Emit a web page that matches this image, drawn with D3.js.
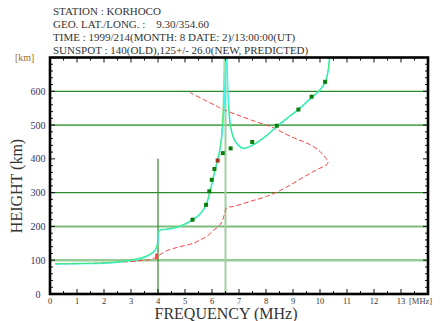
<!DOCTYPE html>
<html>
<head>
<meta charset="utf-8">
<script src="https://cdn.jsdelivr.net/npm/d3@7/dist/d3.min.js"></script>
<style>
  html, body { margin: 0; padding: 0; background: #fff; }
  svg { display: block; }
  text { font-family: "Liberation Serif", "DejaVu Serif", "Times New Roman", serif; white-space: pre; }
</style>
</head>
<body>
<svg id="chart" width="441" height="321"></svg>
<script>
// Header lines
const headerLines = [
  "STATION : KORHOCO",
  "GEO. LAT./LONG. :    9.30/354.60",
  "TIME : 1999/214(MONTH: 8 DATE: 2)/13:00:00(UT)",
  "SUNSPOT : 140(OLD),125+/- 26.0(NEW, PREDICTED)"
];

// Axis ticks
const freqTicks = [0,1,2,3,4,5,6,7,8,9,10,11,12,13];
const heightTicks = [0,100,200,300,400,500,600];

// Reference grid
const gridHeights = [100,200,300,500,600];
const markerFreqs = [4.0, 6.5];
const markerTops = [400, 700];

// Ordinary trace, model (cyan) – lower and upper branches [MHz, km]
const modelLow = [[0.2,89],[1,90],[2,91],[2.6,95],[3,100],[3.3,104],[3.6,112],[3.85,125],[3.96,140],[4.0,160],[4.02,184],[4.1,190],[4.3,191],[4.8,200],[5.28,219],[5.6,240],[5.8,268],[5.95,310],[6.05,345],[6.15,378],[6.25,410],[6.33,445],[6.4,500],[6.46,580],[6.5,650],[6.53,710]];
const modelHigh = [[6.55,710],[6.57,640],[6.6,580],[6.64,530],[6.7,490],[6.8,462],[6.95,442],[7.15,431],[7.5,440],[8.0,467],[8.4,496],[8.8,521],[9.2,546],[9.7,582],[10.0,604],[10.2,628],[10.3,660],[10.37,710]];

// Ordinary trace, fitted (green)
const fitLow = [[0.2,90],[1,90],[2,92],[2.6,96],[3,101],[3.4,108],[3.7,118],[3.9,131],[3.98,150],[4.0,175],[4.05,188],[4.3,192],[4.8,201],[5.28,220],[5.6,242],[5.8,270],[5.95,312],[6.05,347],[6.15,380],[6.25,412],[6.32,445],[6.38,500],[6.42,580],[6.45,710]];
const fitHigh = [[6.62,560],[6.66,510],[6.74,475],[6.85,452],[7.0,438],[7.15,431],[7.5,441],[8.0,468],[8.4,497],[8.8,522],[9.2,547],[9.7,583],[10.0,605],[10.2,629],[10.3,662],[10.36,710]];

// Plasma frequency profile (red, dashed)
const profile = [[0.2,89],[1,90],[2,92],[3,96],[3.5,100],[3.77,103],[4.0,113],[4.32,128],[4.81,140],[5.31,150],[5.56,160],[5.8,170],[6.05,188],[6.3,205],[6.42,225],[6.5,248],[6.56,256],[6.79,259],[7.41,274],[8.02,289],[8.64,311],[9.26,340],[9.88,368],[10.25,383],[10.3,392],[10.25,398],[10.0,422],[9.63,442],[8.89,467],[8.27,492],[7.59,511],[6.91,531],[6.36,548],[6.17,556],[5.68,576],[5.19,596]];

// Scaled observations
const obsFreq   = [5.28,5.78,5.90,5.99,6.09,6.21,6.40,6.69,7.49,8.40,9.20,9.69,10.19];
const obsHeight = [220, 264, 304, 338, 370, 395, 417, 431, 450, 498, 546, 584, 628];

const svg = d3.select("#chart");
const plot = { left: 50, right: 428, top: 57.5, bottom: 294 };

const x = d3.scaleLinear().domain([0, 14]).range([plot.left, plot.right]);
const y = d3.scaleLinear().domain([0, 700]).range([plot.bottom, plot.top]);

// Header
svg.append("g").selectAll("text").data(headerLines).join("text")
  .attr("x", 53)
  .attr("y", (d, i) => 14.8 + i * 12.9)
  .attr("font-size", 11)
  .attr("fill", "#333")
  .text(d => d);

svg.append("defs").append("clipPath").attr("id", "plotClip")
  .append("rect")
  .attr("x", plot.left).attr("y", plot.top)
  .attr("width", plot.right - plot.left).attr("height", plot.bottom - plot.top);

const g = svg.append("g").attr("clip-path", "url(#plotClip)");

// Horizontal reference lines
const gridStyle = {
  100: { c: "#96cc96", w: 2.6 },
  200: { c: "#7dbb7d", w: 2 },
  300: { c: "#2c8a2c", w: 1.2 },
  500: { c: "#5aa85a", w: 1.8 },
  600: { c: "#2c8a2c", w: 1.2 }
};
g.selectAll("line.grid").data(gridHeights).join("line")
  .attr("class", "grid")
  .attr("x1", plot.left).attr("x2", plot.right)
  .attr("y1", d => y(d)).attr("y2", d => y(d))
  .attr("stroke", d => gridStyle[d].c)
  .attr("stroke-width", d => gridStyle[d].w);

// Vertical frequency markers
const markStyle = [{ c: "#2c8a2c", w: 1.2 }, { c: "#9fd09f", w: 2 }];
g.selectAll("line.mark").data(markerFreqs).join("line")
  .attr("class", "mark")
  .attr("x1", d => x(d)).attr("x2", d => x(d))
  .attr("y1", plot.bottom).attr("y2", (d, i) => y(markerTops[i]))
  .attr("stroke", (d, i) => markStyle[i].c)
  .attr("stroke-width", (d, i) => markStyle[i].w);

const line = d3.line().x(d => x(d[0])).y(d => y(d[1])).curve(d3.curveCatmullRom.alpha(0.5));

// Profile
g.append("path").attr("d", line(profile))
  .attr("fill", "none").attr("stroke", "#ff4545").attr("stroke-width", 1)
  .attr("stroke-dasharray", "5,2.5");
g.append("rect")
  .attr("x", x(3.95) - 1.5).attr("y", y(111) - 3)
  .attr("width", 3).attr("height", 6).attr("fill", "#ff4545");

// Model and fitted traces
[modelLow, modelHigh].forEach(d => {
  g.append("path").attr("d", line(d))
    .attr("fill", "none").attr("stroke", "#3cf5f0").attr("stroke-width", 1.6);
});
[fitLow, fitHigh].forEach(d => {
  g.append("path").attr("d", line(d))
    .attr("fill", "none").attr("stroke", "#44e044").attr("stroke-width", 0.9)
    .attr("stroke-opacity", 0.8);
});

// Observations
g.selectAll("rect.obs").data(obsFreq).join("rect")
  .attr("class", "obs")
  .attr("x", d => x(d) - 2).attr("y", (d, i) => y(obsHeight[i]) - 2)
  .attr("width", 4).attr("height", 4)
  .attr("fill", (d, i) => i === 5 ? "#a03020" : "#0a7f0a");

// Ticks (inward, on all four sides)
const ticks = svg.append("g").attr("stroke", "#111").attr("stroke-width", 1);
d3.range(0, 14.01, 0.5).forEach(v => {
  const len = Number.isInteger(v) ? 5 : 3;
  ticks.append("line").attr("x1", x(v)).attr("x2", x(v)).attr("y1", plot.bottom).attr("y2", plot.bottom - len);
  ticks.append("line").attr("x1", x(v)).attr("x2", x(v)).attr("y1", plot.top).attr("y2", plot.top + len);
});
d3.range(0, 701, 20).forEach(v => {
  const len = v % 100 === 0 ? 5 : 3;
  ticks.append("line").attr("x1", plot.left).attr("x2", plot.left + len).attr("y1", y(v)).attr("y2", y(v));
  ticks.append("line").attr("x1", plot.right).attr("x2", plot.right - len).attr("y1", y(v)).attr("y2", y(v));
});

// Frame
svg.append("rect")
  .attr("x", plot.left).attr("y", plot.top)
  .attr("width", plot.right - plot.left).attr("height", plot.bottom - plot.top)
  .attr("fill", "none").attr("stroke", "#000").attr("stroke-width", 2.6);

// Tick labels
svg.append("g").selectAll("text").data(freqTicks).join("text")
  .attr("x", d => x(d)).attr("y", 304)
  .attr("text-anchor", "middle").attr("font-size", 8.5).attr("fill", "#333")
  .text(d => d);
svg.append("text").attr("x", 409).attr("y", 304)
  .attr("font-size", 8.5).attr("fill", "#445").text("[MHz]");

svg.append("g").selectAll("text").data(heightTicks).join("text")
  .attr("x", 38).attr("y", d => y(d) + 3.5)
  .attr("text-anchor", "middle").attr("font-size", 10).attr("fill", "#33335a")
  .text(d => d);
svg.append("text").attr("x", 15).attr("y", 61)
  .attr("font-size", 10).attr("fill", "#a07020").text("[km]");

// Axis titles
svg.append("text").attr("x", 226).attr("y", 319)
  .attr("text-anchor", "middle").attr("font-size", 16).attr("fill", "#333")
  .text("FREQUENCY (MHz)");
svg.append("text")
  .attr("transform", "translate(22,186) rotate(-90)")
  .attr("text-anchor", "middle").attr("font-size", 16).attr("fill", "#333")
  .text("HEIGHT (km)");
</script>
</body>
</html>
